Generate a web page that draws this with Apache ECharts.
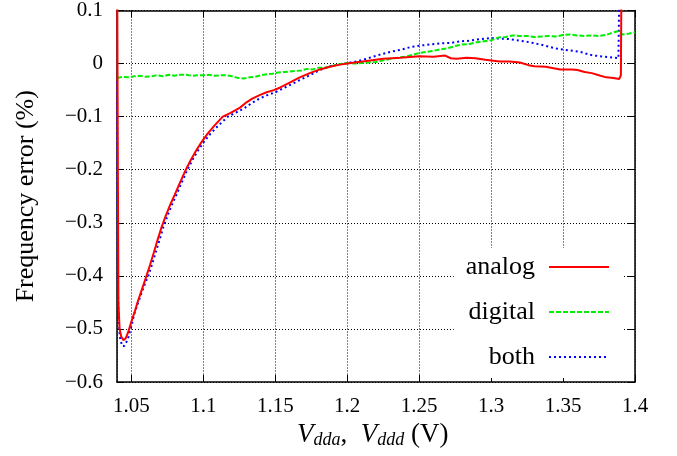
<!DOCTYPE html>
<html>
<head>
<meta charset="utf-8">
<script src="https://cdn.jsdelivr.net/npm/echarts@6/dist/echarts.min.js"></script>
<style>
  html, body { margin: 0; padding: 0; background: #fff; }
  #chart { width: 677px; height: 456px; }
</style>
</head>
<body>
<div id="chart"></div>
<script>
// [Vdd (V), frequency error (%)]
const analog = [
  [1.0402, 0.12], [1.0406, -0.2], [1.0410, -0.45], [1.0418, -0.50], [1.0430, -0.515],
  [1.0445, -0.521], [1.0460, -0.518], [1.0475, -0.508], [1.0490, -0.495], [1.0505, -0.482],
  [1.0525, -0.466], [1.0545, -0.448], [1.0565, -0.432], [1.0585, -0.416], [1.0605, -0.400],
  [1.0630, -0.379], [1.0655, -0.357], [1.0680, -0.334], [1.0710, -0.308], [1.0740, -0.286],
  [1.0770, -0.266], [1.0800, -0.248], [1.0840, -0.223], [1.0875, -0.202], [1.0910, -0.183],
  [1.0950, -0.164], [1.0990, -0.147], [1.1030, -0.132], [1.1080, -0.116], [1.1135, -0.100],
  [1.1190, -0.093], [1.1255, -0.083], [1.1300, -0.073], [1.1340, -0.066], [1.1395, -0.059],
  [1.1440, -0.054], [1.1490, -0.050], [1.1535, -0.045], [1.1600, -0.036], [1.1670, -0.026],
  [1.1740, -0.018], [1.1810, -0.011], [1.1880, -0.006], [1.1950, -0.002], [1.2000, 0.000],
  [1.2080, 0.003], [1.2160, 0.006], [1.2250, 0.009], [1.2370, 0.011], [1.2500, 0.014],
  [1.2600, 0.013], [1.2680, 0.015], [1.2720, 0.010], [1.2760, 0.009], [1.2830, 0.011],
  [1.2890, 0.010], [1.2960, 0.007], [1.3060, 0.004], [1.3130, 0.004], [1.3200, 0.002],
  [1.3260, -0.003], [1.3300, -0.005], [1.3380, -0.006], [1.3480, -0.011], [1.3560, -0.011],
  [1.3600, -0.012], [1.3650, -0.016], [1.3700, -0.018], [1.3760, -0.023], [1.3800, -0.026],
  [1.3850, -0.027], [1.3890, -0.029], [1.3902, -0.022], [1.3905, 0.12]
]
const digital = [
  [1.0400, -0.027], [1.0440, -0.025], [1.0480, -0.026], [1.0520, -0.024], [1.0560, -0.023],
  [1.0600, -0.025], [1.0640, -0.024], [1.0680, -0.022], [1.0720, -0.024], [1.0760, -0.021],
  [1.0800, -0.023], [1.0840, -0.021], [1.0880, -0.021], [1.0920, -0.023], [1.0960, -0.022],
  [1.1000, -0.022], [1.1040, -0.021], [1.1080, -0.023], [1.1120, -0.022], [1.1160, -0.022],
  [1.1200, -0.024], [1.1240, -0.027], [1.1280, -0.028], [1.1320, -0.026], [1.1360, -0.025],
  [1.1400, -0.022], [1.1440, -0.020], [1.1480, -0.019], [1.1520, -0.017], [1.1560, -0.016],
  [1.1600, -0.015], [1.1640, -0.014], [1.1680, -0.013], [1.1720, -0.010], [1.1760, -0.011],
  [1.1800, -0.008], [1.1850, -0.008], [1.1900, -0.004], [1.1950, -0.001], [1.2000, 0.001],
  [1.2050, 0.000], [1.2100, 0.001], [1.2150, 0.002], [1.2200, 0.003], [1.2250, 0.006],
  [1.2300, 0.009], [1.2350, 0.011], [1.2400, 0.013], [1.2450, 0.016], [1.2500, 0.020],
  [1.2550, 0.022], [1.2600, 0.024], [1.2650, 0.027], [1.2700, 0.029], [1.2750, 0.033],
  [1.2800, 0.036], [1.2850, 0.037], [1.2900, 0.040], [1.2950, 0.042], [1.3000, 0.044],
  [1.3050, 0.049], [1.3100, 0.050], [1.3150, 0.053], [1.3200, 0.052], [1.3250, 0.052],
  [1.3300, 0.050], [1.3350, 0.051], [1.3400, 0.052], [1.3450, 0.051], [1.3500, 0.054],
  [1.3550, 0.055], [1.3600, 0.053], [1.3650, 0.052], [1.3700, 0.053], [1.3750, 0.052],
  [1.3800, 0.054], [1.3850, 0.059], [1.3880, 0.061], [1.3910, 0.055], [1.3950, 0.056],
  [1.4000, 0.059]
]
const both = [
  [1.0400, -0.035], [1.0402, -0.2], [1.0405, -0.40], [1.0410, -0.48], [1.0420, -0.515],
  [1.0435, -0.532], [1.0450, -0.532], [1.0465, -0.525], [1.0480, -0.515], [1.0500, -0.495],
  [1.0520, -0.472], [1.0545, -0.452], [1.0570, -0.433], [1.0595, -0.414], [1.0618, -0.400],
  [1.0645, -0.377], [1.0670, -0.355], [1.0695, -0.333], [1.0722, -0.308], [1.0755, -0.284],
  [1.0785, -0.264], [1.0820, -0.243], [1.0850, -0.224], [1.0884, -0.203], [1.0925, -0.181],
  [1.0965, -0.163], [1.1005, -0.147], [1.1050, -0.132], [1.1100, -0.118], [1.1170, -0.100],
  [1.1230, -0.092], [1.1290, -0.083], [1.1340, -0.074], [1.1390, -0.066], [1.1440, -0.060],
  [1.1500, -0.054], [1.1560, -0.046], [1.1620, -0.038], [1.1670, -0.031], [1.1740, -0.022],
  [1.1810, -0.012], [1.1880, -0.005], [1.1950, -0.001], [1.2000, 0.001], [1.2060, 0.004],
  [1.2120, 0.008], [1.2180, 0.013], [1.2230, 0.017], [1.2300, 0.022], [1.2370, 0.026],
  [1.2440, 0.031], [1.2510, 0.034], [1.2580, 0.036], [1.2650, 0.038], [1.2720, 0.039],
  [1.2790, 0.042], [1.2850, 0.043], [1.2920, 0.046], [1.2990, 0.048], [1.3060, 0.047],
  [1.3130, 0.046], [1.3200, 0.043], [1.3270, 0.040], [1.3340, 0.036], [1.3400, 0.032],
  [1.3460, 0.028], [1.3510, 0.026], [1.3570, 0.024], [1.3620, 0.022], [1.3680, 0.017],
  [1.3720, 0.015], [1.3790, 0.013], [1.3860, 0.011], [1.3885, 0.010], [1.3890, 0.12]
]
const seriesNames = ['analog', 'digital', 'both']
const xRange = [1.04, 1.4]
const yRange = [-0.6, 0.1]
const yStep = 0.1

const FONT = '"Liberation Serif", "DejaVu Serif", serif'
const chart = echarts.init(document.getElementById('chart'))

const dottedGrid = {
  show: true,
  lineStyle: { color: '#000', width: 1, type: [1, 2] }
}
const frameLine = { show: true, onZero: false, lineStyle: { color: '#000', width: 1.5 } }
const innerTick = { show: true, inside: true, length: 7, lineStyle: { color: '#000', width: 1 } }

function fmtY(v) {
  if (Math.abs(v) < 1e-9) return '0'
  return v.toFixed(1).replace('-', '\u2212')
}

function makeSeries(name, data, color, type, idx) {
  return {
    name,
    data,
    type: 'line',
    symbol: 'none',
    z: 10 - idx,
    lineStyle: { color, width: 2, type },
    itemStyle: { color },
    animation: false
  }
}

chart.setOption({
  backgroundColor: '#fff',
  animation: false,
  grid: { left: 117, right: 42, top: 9, bottom: 74 },
  legend: {
    data: seriesNames,
    orient: 'vertical',
    align: 'right',
    right: 53,
    top: 248,
    itemWidth: 60,
    itemHeight: 22,
    itemGap: 19,
    padding: [6, 14, 8, 12],
    backgroundColor: '#fff',
    itemStyle: { opacity: 0 },
    textStyle: {
      fontFamily: FONT,
      fontSize: 26,
      lineHeight: 22,
      color: '#000',
      padding: [0, 9, 0, 0]
    }
  },
  xAxis: [
    {
      type: 'value',
      min: xRange[0],
      max: xRange[1],
      splitNumber: 7,
      axisLine: frameLine,
      axisTick: innerTick,
      splitLine: dottedGrid,
      axisLabel: {
        showMinLabel: false,
        margin: 14,
        fontFamily: FONT,
        fontSize: 21,
        color: '#000'
      }
    },
    {
      type: 'value',
      position: 'top',
      min: xRange[0],
      max: xRange[1],
      splitNumber: 7,
      axisLine: frameLine,
      axisTick: innerTick,
      splitLine: { show: false },
      axisLabel: { show: false }
    }
  ],
  yAxis: [
    {
      type: 'value',
      min: yRange[0],
      max: yRange[1],
      interval: yStep,
      axisLine: frameLine,
      axisTick: innerTick,
      splitLine: dottedGrid,
      axisLabel: {
        margin: 14,
        fontFamily: FONT,
        fontSize: 21,
        color: '#000',
        formatter: fmtY
      },
      name: 'Frequency error (%)',
      nameLocation: 'middle',
      nameGap: 78,
      nameTextStyle: { fontFamily: FONT, fontSize: 26, color: '#000' }
    },
    {
      type: 'value',
      position: 'right',
      min: yRange[0],
      max: yRange[1],
      interval: yStep,
      axisLine: frameLine,
      axisTick: innerTick,
      splitLine: { show: false },
      axisLabel: { show: false }
    }
  ],
  graphic: [
    {
      type: 'text',
      left: 297,
      top: 421,
      style: {
        text: '{i|V}{s|dda}{n|,  }{i|V}{s|ddd}{n| (V)}',
        rich: {
          i: { fontFamily: FONT, fontSize: 27, fontStyle: 'italic', color: '#000' },
          s: { fontFamily: FONT, fontSize: 18, fontStyle: 'italic', color: '#000', padding: [12, 0, 0, 0] },
          n: { fontFamily: FONT, fontSize: 27, color: '#000' }
        }
      }
    }
  ],
  series: [
    makeSeries('analog', analog, '#ff0000', 'solid', 0),
    makeSeries('digital', digital, '#00ee00', [5, 2], 1),
    makeSeries('both', both, '#0000ff', [2, 3], 2)
  ]
})
</script>
</body>
</html>
